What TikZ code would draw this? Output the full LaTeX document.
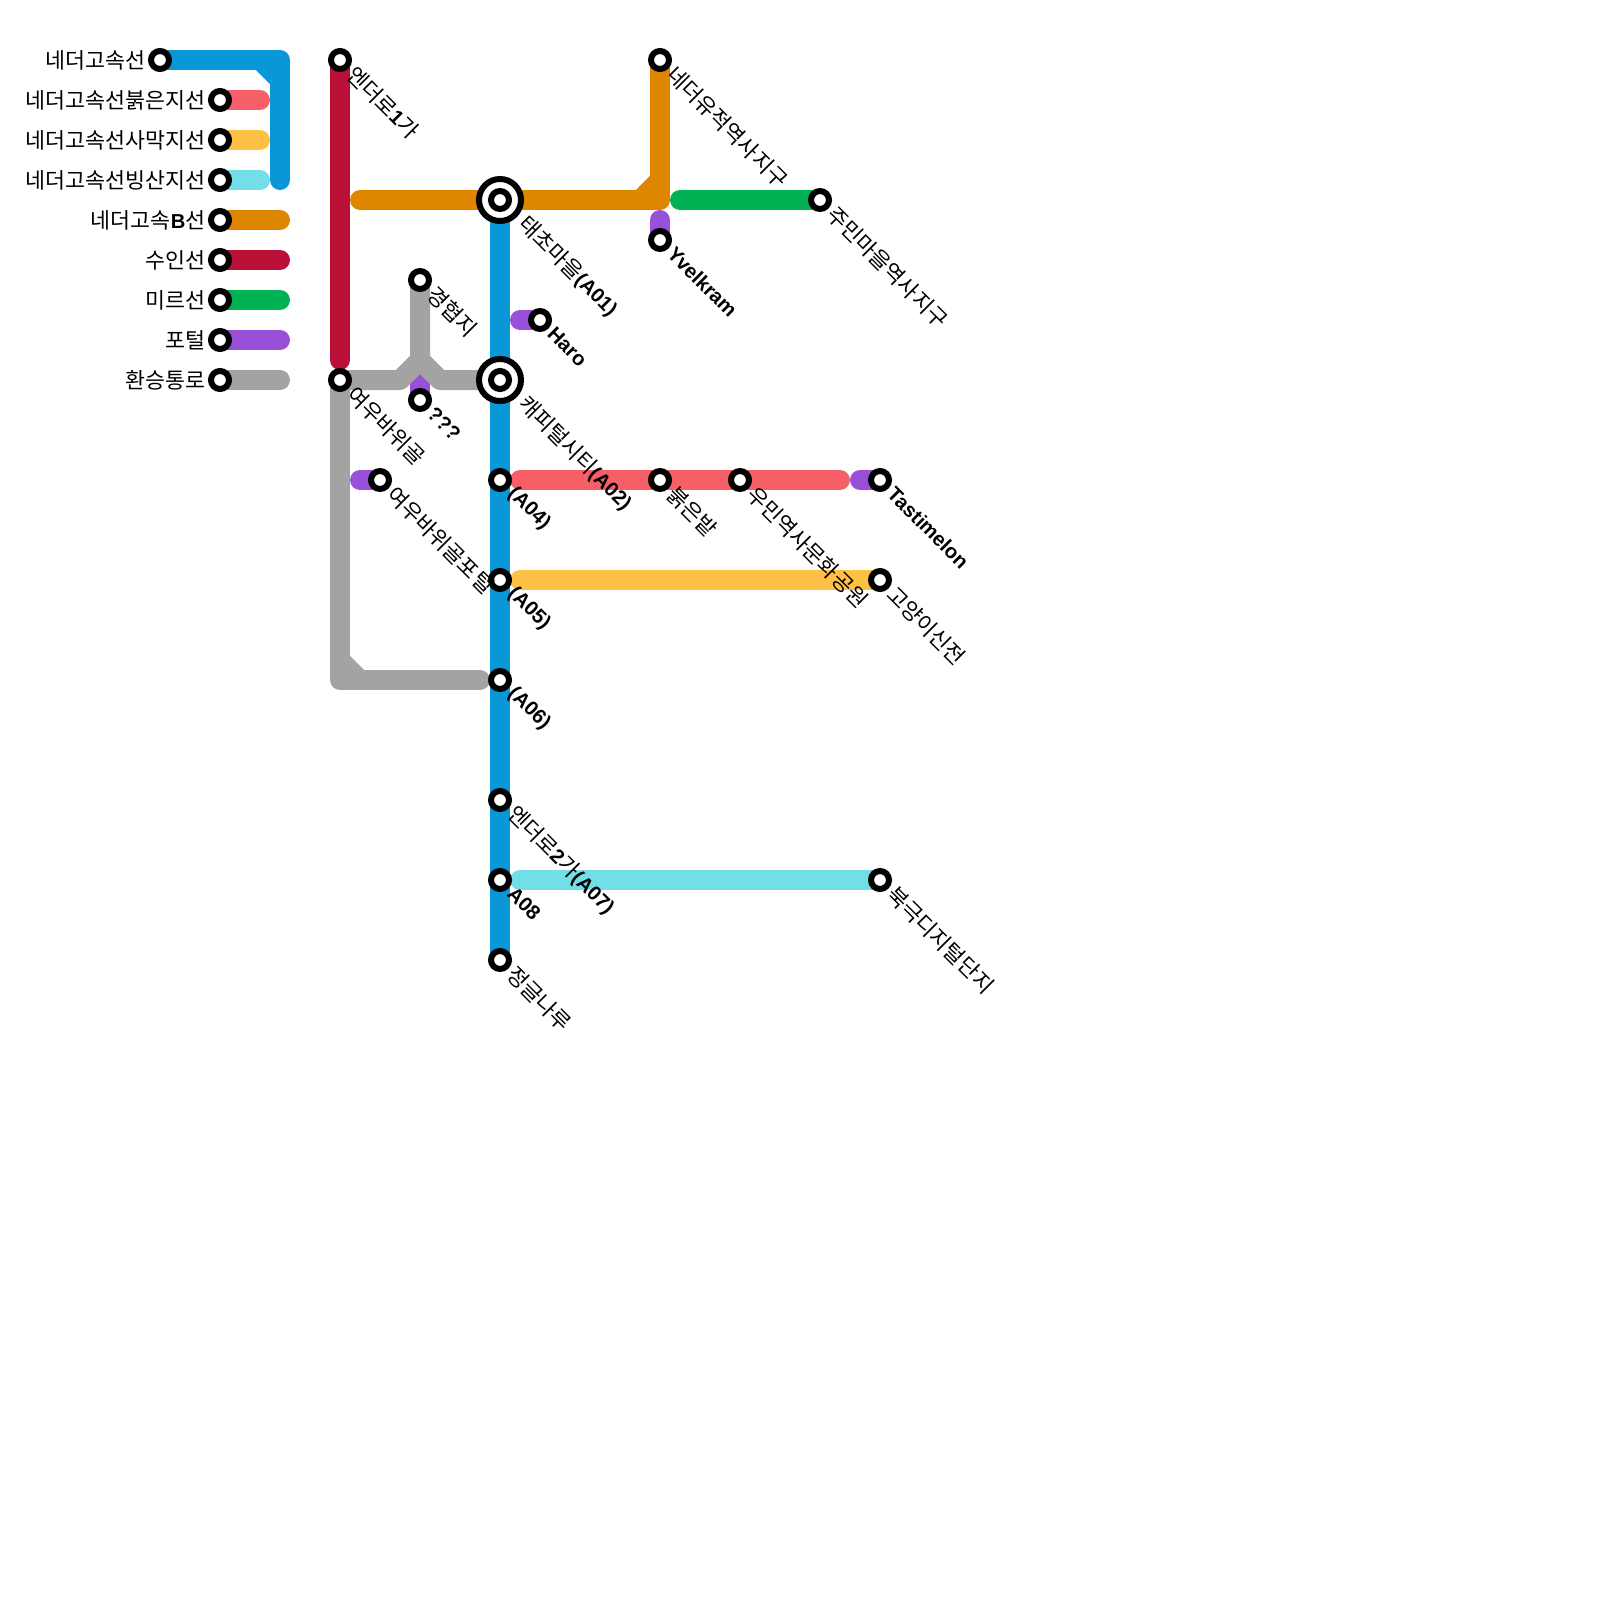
\documentclass[tikz,border=0pt]{standalone}
\usepackage{fontspec}
\setmainfont{Noto Sans CJK KR}
\newfontfamily\latinfont{Liberation Sans}[Scale=0.93]
\newcommand{\lb}[1]{{\latinfont\bfseries #1}}
\usetikzlibrary{backgrounds}

\definecolor{lineblue}{HTML}{0A97D8}
\definecolor{linered}{HTML}{F65F67}
\definecolor{linegold}{HTML}{FFC145}
\definecolor{linecyan}{HTML}{72DEE8}
\definecolor{lineorange}{HTML}{DF8600}
\definecolor{linecrimson}{HTML}{BA1038}
\definecolor{linegreen}{HTML}{00B254}
\definecolor{linepurple}{HTML}{9850D8}
\definecolor{linegray}{HTML}{A3A3A3}

\tikzset{
    route/.style={line width=20pt, line cap=round, line join=round},
    stn/.style={circle, draw=black, fill=white, line width=6pt, minimum size=18pt, inner sep=0pt},
    hub/.style={circle, draw=black, fill=white, line width=6pt, minimum size=42pt, inner sep=0pt},
    lbl/.style={shift={(11,10.5)}, rotate=-45, anchor=west, font=\fontsize{21.7}{22}\selectfont, inner sep=0pt},
    hublbl/.style={shift={(22,20)}, rotate=-45, anchor=west, font=\fontsize{21.7}{22}\selectfont, inner sep=0pt},
    key/.style={anchor=east, font=\fontsize{21.7}{22}\selectfont, inner sep=0pt, xshift=-14.5pt},
}

\begin{document}
\begin{tikzpicture}[x=1pt,y=-1pt]
    \useasboundingbox (0,0) rectangle (1600,1600);

    % 범례 역
    \node[stn] (kNether) at (160,60) {};
    \node[stn] (kRed) at (220,100) {};
    \node[stn] (kDesert) at (220,140) {};
    \node[stn] (kIce) at (220,180) {};
    \node[stn] (kB) at (220,220) {};
    \node[stn] (kSuin) at (220,260) {};
    \node[stn] (kMir) at (220,300) {};
    \node[stn] (kPortal) at (220,340) {};
    \node[stn] (kTransfer) at (220,380) {};

    % 범례 이름
    \node[key] (tNether) at (kNether) {네더고속선};
    \node[key] (tRed) at (kRed) {네더고속선붉은지선};
    \node[key] (tDesert) at (kDesert) {네더고속선사막지선};
    \node[key] (tIce) at (kIce) {네더고속선빙산지선};
    \node[key] (tB) at (kB) {네더고속\lb{B}선};
    \node[key] (tSuin) at (kSuin) {수인선};
    \node[key] (tMir) at (kMir) {미르선};
    \node[key] (tPortal) at (kPortal) {포털};
    \node[key] (tTransfer) at (kTransfer) {환승통로};

    % 범례 끝점
    \coordinate (eRed) at (260,100);
    \coordinate (eDesert) at (260,140);
    \coordinate (eIce) at (260,180);
    \coordinate (eB) at (280,220);
    \coordinate (eSuin) at (280,260);
    \coordinate (eMir) at (280,300);
    \coordinate (ePortal) at (280,340);
    \coordinate (eTransfer) at (280,380);

    % 노선 역
    \node[stn] (ender1) at (340,60) {};
    \node[stn] (yeou) at (340,380) {};
    \node[stn] (yeouP) at (380,480) {};
    \node[stn] (gyeong) at (420,280) {};
    \node[stn] (qqq) at (420,400) {};
    \node[hub] (taecho) at (500,200) {};
    \node[stn] (taechoC) at (500,200) {};
    \node[hub] (capital) at (500,380) {};
    \node[stn] (capitalC) at (500,380) {};
    \node[stn] (haro) at (540,320) {};
    \node[stn] (a04) at (500,480) {};
    \node[stn] (a05) at (500,580) {};
    \node[stn] (a06) at (500,680) {};
    \node[stn] (ender2) at (500,800) {};
    \node[stn] (a08) at (500,880) {};
    \node[stn] (jungle) at (500,960) {};
    \node[stn] (ruins) at (660,60) {};
    \node[stn] (yvel) at (660,240) {};
    \node[stn] (jumin) at (820,200) {};
    \node[stn] (field) at (660,480) {};
    \node[stn] (umin) at (740,480) {};
    \node[stn] (tasti) at (880,480) {};
    \node[stn] (cat) at (880,580) {};
    \node[stn] (north) at (880,880) {};

    % 역 이름
    \node[lbl] (lEnder1) at (ender1) {엔더로\lb{1}가};
    \node[lbl] (lYeou) at (yeou) {여우바위골};
    \node[lbl] (lYeouP) at (yeouP) {여우바위골포털};
    \node[lbl] (lGyeong) at (gyeong) {경협지};
    \node[lbl] (lQqq) at (qqq) {\lb{???}};
    \node[hublbl] (lTaecho) at (taecho) {태초마을\lb{(A01)}};
    \node[hublbl] (lCapital) at (capital) {캐피털시티\lb{(A02)}};
    \node[lbl] (lHaro) at (haro) {\lb{Haro}};
    \node[lbl] (lA04) at (a04) {\lb{(A04)}};
    \node[lbl] (lA05) at (a05) {\lb{(A05)}};
    \node[lbl] (lA06) at (a06) {\lb{(A06)}};
    \node[lbl] (lEnder2) at (ender2) {엔더로\lb{2}가\lb{(A07)}};
    \node[lbl] (lA08) at (a08) {\lb{A08}};
    \node[lbl] (lJungle) at (jungle) {정글나루};
    \node[lbl] (lRuins) at (ruins) {네더유적역사지구};
    \node[lbl] (lYvel) at (yvel) {\lb{Yvelkram}};
    \node[lbl] (lJumin) at (jumin) {주민마을역사지구};
    \node[lbl] (lField) at (field) {붉은밭};
    \node[lbl] (lUmin) at (umin) {우민역사문화공원};
    \node[lbl] (lTasti) at (tasti) {\lb{Tastimelon}};
    \node[lbl] (lCat) at (cat) {고양이신전};
    \node[lbl] (lNorth) at (north) {북극디지털단지};

    % 꺾이는 점
    \coordinate (bCorner) at (280,60);
    \coordinate (bDiagA) at (260,60);
    \coordinate (bDiagB) at (280,80);
    \coordinate (bEnd) at (280,180);
    \coordinate (oStart) at (360,200);
    \coordinate (oCorner) at (660,200);
    \coordinate (oDiagA) at (640,200);
    \coordinate (oDiagB) at (660,180);
    \coordinate (cEnd) at (340,360);
    \coordinate (gFork) at (420,360);
    \coordinate (gLeft) at (400,380);
    \coordinate (gRight) at (440,380);
    \coordinate (gEnd) at (480,380);
    \coordinate (gCorner) at (340,680);
    \coordinate (gDiagA) at (340,660);
    \coordinate (gDiagB) at (360,680);
    \coordinate (gTail) at (480,680);
    \coordinate (mStart) at (680,200);
    \coordinate (rStart) at (520,480);
    \coordinate (rEnd) at (840,480);
    \coordinate (yStart) at (520,580);
    \coordinate (iStart) at (520,880);
    \coordinate (pHaro) at (520,320);
    \coordinate (pYeou) at (360,480);
    \coordinate (pTasti) at (860,480);
    \coordinate (pYvel) at (660,220);
    \coordinate (pQqq) at (420,380);

    \begin{scope}[on background layer]
        % 범례 선
        \draw[route, linered] (kRed.center) -- (eRed);
        \draw[route, linegold] (kDesert.center) -- (eDesert);
        \draw[route, linecyan] (kIce.center) -- (eIce);
        \draw[route, lineorange] (kB.center) -- (eB);
        \draw[route, linecrimson] (kSuin.center) -- (eSuin);
        \draw[route, linegreen] (kMir.center) -- (eMir);
        \draw[route, linepurple] (kPortal.center) -- (ePortal);
        \draw[route, linegray] (kTransfer.center) -- (eTransfer);
        \draw[route, lineblue] (kNether.center) -- (bCorner) -- (bEnd);
        \draw[route, lineblue] (bDiagA) -- (bDiagB);

        % 포털
        \draw[route, linepurple] (pHaro) -- (haro.center);
        \draw[route, linepurple] (pYeou) -- (yeouP.center);
        \draw[route, linepurple] (pTasti) -- (tasti.center);
        \draw[route, linepurple] (pYvel) -- (yvel.center);
        \draw[route, linepurple] (pQqq) -- (qqq.center);

        % 지선
        \draw[route, linered] (rStart) -- (field.center) -- (umin.center) -- (rEnd);
        \draw[route, linegold] (yStart) -- (cat.center);
        \draw[route, linecyan] (iStart) -- (north.center);

        % 환승통로
        \draw[route, linegray] (yeou.center) -- (gLeft) -- (gFork) -- (gyeong.center);
        \draw[route, linegray] (gEnd) -- (gRight) -- (gFork);
        \draw[route, linegray] (yeou.center) -- (gCorner) -- (gTail);
        \draw[route, linegray] (gDiagA) -- (gDiagB);

        % 본선
        \draw[route, lineblue] (taecho.center) -- (jungle.center);
        \draw[route, lineorange] (oStart) -- (oCorner) -- (ruins.center);
        \draw[route, lineorange] (oDiagA) -- (oDiagB);
        \draw[route, linecrimson] (ender1.center) -- (cEnd);
        \draw[route, linegreen] (mStart) -- (jumin.center);
    \end{scope}
\end{tikzpicture}
\end{document}
